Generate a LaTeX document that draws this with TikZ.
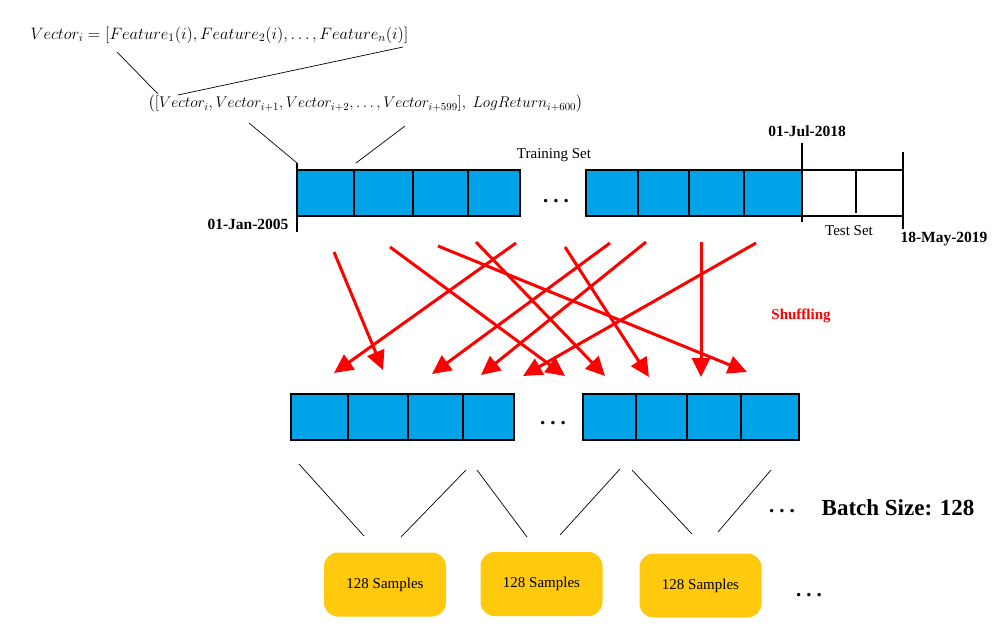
\RequirePackage{fix-cm}
\documentclass[tikz,border=0pt]{standalone}
\usepackage{fontspec}
\setmainfont{Liberation Serif}
\usepackage{amsmath}
\usepackage{xcolor}
\usetikzlibrary{arrows.meta}
\definecolor{cellblue}{HTML}{00A2E8}
\definecolor{sampleyellow}{HTML}{FFC90E}
\definecolor{shufred}{HTML}{FF0000}

\begin{document}
\begin{tikzpicture}[x=1pt,y=-1pt,
  cell/.style={fill=cellblue,draw=black,line width=1.1pt},
  link/.style={draw=black,line width=0.7pt},
  shuf/.style={draw=shufred,line width=3pt,-{Triangle[length=19pt,width=18pt]}},
  date/.style={font=\fontsize{15.5}{18}\selectfont\bfseries},
  lbl/.style={font=\fontsize{15}{18}\selectfont},
  dots/.style={font=\fontsize{21}{24}\selectfont\bfseries,anchor=base},
  sample/.style={fill=sampleyellow,rounded corners=14pt,minimum width=122pt,minimum height=64pt,font=\fontsize{15}{18}\selectfont}]
\useasboundingbox (0,0) rectangle (1008,642);
% formulas
\node[font=\fontsize{16.5}{20}\selectfont] (vec) at (219.5,35) {$Vector_i = [Feature_1(i), Feature_2(i), \ldots, Feature_n(i)]$};
\node[font=\fontsize{15.5}{20}\selectfont] (win) at (365.5,104) {$\bigl([Vector_i, Vector_{i+1}, Vector_{i+2}, \ldots, Vector_{i+599}],\ LogReturn_{i+600}\bigr)$};
\foreach \n/\a/\b/\c/\d in {1/117/52/158/94, 2/403/47/178/95, 3/249/123/297/163, 4/405/126/356/163}{
  \coordinate (fa\n) at (\a,\b);
  \coordinate (fb\n) at (\c,\d);
  \draw[link] (fa\n) -- (fb\n);
}
% time line
\foreach \a/\b in {297/354,354/413,413/468,468/520,586/638,638/689,689/744,744/802}
  \filldraw[cell] (\a,170) rectangle (\b,216);
\draw[line width=1.1pt] (802,170) -- (903,170) (802,216) -- (903,216) (856,170) -- (856,213);
\draw[line width=1.1pt] (297,163) -- (297,232) (802,143) -- (802,222) (903,152) -- (903,229);
\node[date,anchor=east] (jan05) at (292,224) {01-Jan-2005};
\node[date] (jul18) at (807,131) {01-Jul-2018};
\node[date] (may19) at (944,239) {18-May-2019};
\node[lbl] (train) at (554,155) {Training Set};
\node[lbl] (test) at (849,231) {Test Set};
\node[dots] (gap1) at (556,202) {.\hspace{5pt}.\hspace{5pt}.};
% shuffling
\foreach \n/\a/\b/\c/\d in {1/334/252/383/370, 2/390/247/565/376, 3/438/246/747/372, 4/476/242/605/376, 5/516/243/334/373,
  6/610/243/432/374, 7/646/242/481/375, 8/565/247/649/377, 9/701/242/701/377, 10/756/243/523/376}{
  \coordinate (sa\n) at (\a,\b);
  \coordinate (sb\n) at (\c,\d);
  \draw[shuf] (sa\n) -- (sb\n);
}
\node[font=\fontsize{15}{18}\selectfont\bfseries,text=shufred] (shuffling) at (801,316) {Shuffling};
% shuffled set
\foreach \a/\b in {291/348,348/408,408/463,463/514,583/636,636/687,687/741,741/799}
  \filldraw[cell] (\a,394) rectangle (\b,440);
\node[dots] (gap2) at (553,424) {.\hspace{5pt}.\hspace{5pt}.};
% batches
\node[sample] (b1) at (385,584.5) {128 Samples};
\node[sample] (b2) at (541.5,584) {128 Samples};
\node[sample] (b3) at (700.5,585.5) {128 Samples};
\foreach \n/\a/\b/\c/\d in {1/299/464/364/536, 2/466/470/401/537, 3/477/470/527/537, 4/620/469/560/535, 5/632/470/692/534, 6/771/470/718/532}{
  \coordinate (ba\n) at (\a,\b);
  \coordinate (bb\n) at (\c,\d);
  \draw[link] (ba\n) -- (bb\n);
}
\node[dots] (gap3) at (782,512) {.\hspace{5pt}.\hspace{5pt}.};
\node[font=\fontsize{23}{26}\selectfont\bfseries] (batch) at (898,508) {Batch Size: 128};
\node[dots] (gap4) at (809,596) {.\hspace{5pt}.\hspace{5pt}.};
\end{tikzpicture}
\end{document}
